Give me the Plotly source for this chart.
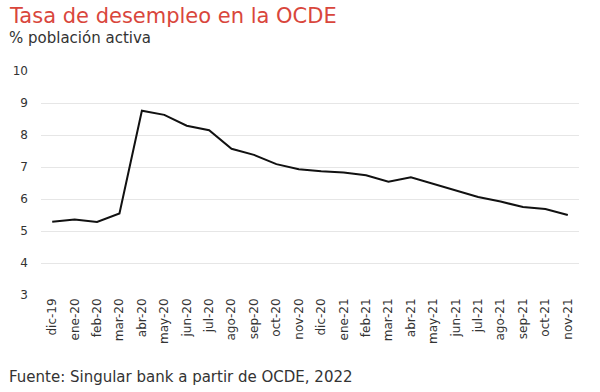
import plotly.graph_objects as go

months = ["dic-19", "ene-20", "feb-20", "mar-20", "abr-20", "may-20", "jun-20", "jul-20",
          "ago-20", "sep-20", "oct-20", "nov-20", "dic-20", "ene-21", "feb-21", "mar-21",
          "abr-21", "may-21", "jun-21", "jul-21", "ago-21", "sep-21", "oct-21", "nov-21"]
unemployment = [5.29, 5.36, 5.28, 5.55, 8.76, 8.63, 8.29, 8.15, 7.57, 7.38, 7.09, 6.93,
                6.87, 6.83, 6.74, 6.54, 6.68, 6.48, 6.28, 6.06, 5.92, 5.75, 5.69, 5.50]
y_ticks = [3, 4, 5, 6, 7, 8, 9, 10]

FONT = "DejaVu Sans"
L, R, T, B = 41, 21, 71, 97
W, H = 600, 392


def px(x, y):
    return (x - L) / (W - L - R), 1 - (y - T) / (H - T - B)


fig = go.Figure()
fig.add_trace(go.Scatter(x=months, y=unemployment, mode="lines",
                         line=dict(color="#111111", width=2), hoverinfo="x+y"))

annots = [
    ("Tasa de desempleo en la OCDE", 7, 2, 21, "#d9463c"),
    ("% población activa", 7, 27, 15, "#333333"),
    ("Fuente: Singular bank a partir de OCDE, 2022", 7, 366, 15, "#333333"),
]
annotations = []
for text, x, y, size, color in annots:
    ax, ay = px(x, y)
    annotations.append(dict(text=text, x=ax, y=ay, xref="paper", yref="paper",
                            xanchor="left", yanchor="top", showarrow=False,
                            font=dict(size=size, color=color, family=FONT)))

fig.update_layout(
    width=W, height=H,
    margin=dict(l=L, r=R, t=T, b=B),
    paper_bgcolor="white", plot_bgcolor="white",
    showlegend=False,
    font=dict(family=FONT, color="#333333", size=12),
    xaxis=dict(type="category", tickangle=-90, showgrid=False, zeroline=False,
               showline=False, ticks="", tickfont=dict(size=12, color="#333333"),
               range=[-0.5, len(months) - 0.5], automargin=False),
    yaxis=dict(range=[3, 10], tickvals=y_ticks, showgrid=True, gridcolor="#e6e6e6",
               gridwidth=1, zeroline=False, showline=False, ticks="",
               tickfont=dict(size=12, color="#333333"), ticklabelstandoff=12,
               automargin=False),
    annotations=annotations,
)

fig.write_html("out.html", config={"displayModeBar": False},
               post_script="document.body.style.margin='0';document.body.style.padding='0';")
